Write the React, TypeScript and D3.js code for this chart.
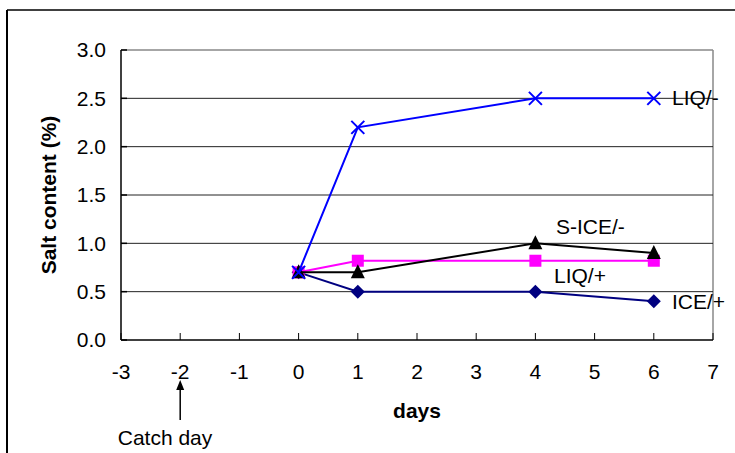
import React from "react";
import * as d3 from "d3";

const days = [0, 1, 4, 6];
const liqMinus = [0.7, 2.2, 2.5, 2.5];
const sIceMinus = [0.7, 0.7, 1.0, 0.9];
const liqPlus = [0.7, 0.82, 0.82, 0.82];
const icePlus = [0.7, 0.5, 0.5, 0.4];
const xTicks = [-3, -2, -1, 0, 1, 2, 3, 4, 5, 6, 7];
const yTicks = [0, 0.5, 1.0, 1.5, 2.0, 2.5, 3.0];

const W = 735, H = 453;
const L = 121, R = 713, T = 50, B = 340;
const FONT = "'Liberation Sans', Arial, sans-serif";
const FS = 21;

export default function App() {
  const x = d3.scaleLinear().domain([-3, 7]).range([L, R]);
  const y = d3.scaleLinear().domain([0, 3]).range([B, T]);
  const line = d3.line<[number, number]>().x(d => x(d[0])).y(d => y(d[1]));
  const pts = (vals: number[]) => days.map((d, i) => [d, vals[i]] as [number, number]);

  const series = [
    { name: "ICE/+", vals: icePlus, color: "#000080", marker: "diamond" },
    { name: "LIQ/+", vals: liqPlus, color: "#FF00FF", marker: "square" },
    { name: "S-ICE/-", vals: sIceMinus, color: "#000000", marker: "triangle" },
    { name: "LIQ/-", vals: liqMinus, color: "#0000FF", marker: "x" },
  ];

  const marker = (m: string, cx: number, cy: number, color: string, key: string) => {
    if (m === "diamond") {
      const s = 7;
      return <path key={key} d={`M${cx},${cy - s}L${cx + s},${cy}L${cx},${cy + s}L${cx - s},${cy}Z`} fill={color} />;
    }
    if (m === "square") {
      return <rect key={key} x={cx - 6} y={cy - 6} width={12} height={12} fill={color} />;
    }
    if (m === "triangle") {
      return <path key={key} d={`M${cx},${cy - 8}L${cx + 7},${cy + 6}L${cx - 7},${cy + 6}Z`} fill={color} />;
    }
    const s = 6.5;
    return (
      <path key={key} d={`M${cx - s},${cy - s}L${cx + s},${cy + s}M${cx - s},${cy + s}L${cx + s},${cy - s}`}
        stroke={color} strokeWidth={2} fill="none" />
    );
  };

  return (
    <svg width={W} height={H} style={{ position: "absolute", left: 0, top: 0 }} fontFamily={FONT}>
      <rect x={0} y={0} width={W} height={H} fill="#fff" />
      {/* outer frame */}
      <line x1={7} y1={10} x2={W} y2={10} stroke="#000" strokeWidth={1.5} />
      <line x1={7} y1={10} x2={7} y2={H} stroke="#000" strokeWidth={2} />
      {/* plot border */}
      <line x1={L} y1={T} x2={R} y2={T} stroke="#888" strokeWidth={1.5} />
      <line x1={R} y1={T} x2={R} y2={B} stroke="#888" strokeWidth={1.5} />
      {/* gridlines */}
      {yTicks.filter(v => v > 0 && v < 3).map(v => (
        <line key={v} x1={L} x2={R} y1={y(v)} y2={y(v)} stroke="#222" strokeWidth={1} />
      ))}
      {/* axes */}
      <line x1={L} y1={T} x2={L} y2={B} stroke="#000" strokeWidth={1.5} />
      <line x1={L} y1={B} x2={R} y2={B} stroke="#000" strokeWidth={1.5} />
      {yTicks.map(v => (
        <g key={"yt" + v}>
          <line x1={L} x2={L + 6} y1={y(v)} y2={y(v)} stroke="#000" strokeWidth={1.5} />
          <text x={L - 15} y={y(v)} dy="0.35em" textAnchor="end" fontSize={FS}>{v.toFixed(1)}</text>
        </g>
      ))}
      {xTicks.map(v => (
        <g key={"xt" + v}>
          <line x1={x(v)} x2={x(v)} y1={B} y2={B - 7} stroke="#000" strokeWidth={1} />
          <text x={x(v)} y={372} dy="0.35em" textAnchor="middle" fontSize={FS}>{v}</text>
        </g>
      ))}
      {/* series */}
      {series.map(s => (
        <g key={s.name}>
          <path d={line(pts(s.vals)) || ""} fill="none" stroke={s.color} strokeWidth={2} />
          {pts(s.vals).map((p, i) => marker(s.marker, x(p[0]), y(p[1]), s.color, s.name + i))}
        </g>
      ))}
      {/* series labels */}
      <text x={672} y={105} fontSize={FS}>LIQ/-</text>
      <text x={556} y={234} fontSize={FS}>S-ICE/-</text>
      <text x={554} y={283} fontSize={FS}>LIQ/+</text>
      <text x={672} y={309} fontSize={FS}>ICE/+</text>
      {/* axis titles */}
      <text x={417} y={418} textAnchor="middle" fontSize={21} fontWeight="bold">days</text>
      <text transform={`translate(56,${(T + B) / 2}) rotate(-90)`} textAnchor="middle" fontSize={21} fontWeight="bold">Salt content (%)</text>
      {/* catch day annotation */}
      <line x1={x(-2)} x2={x(-2)} y1={420} y2={388} stroke="#000" strokeWidth={1.5} />
      <path d={`M${x(-2)},380L${x(-2) + 4},390L${x(-2) - 4},390Z`} fill="#000" />
      <text x={165} y={445} textAnchor="middle" fontSize={FS}>Catch day</text>
    </svg>
  );
}
